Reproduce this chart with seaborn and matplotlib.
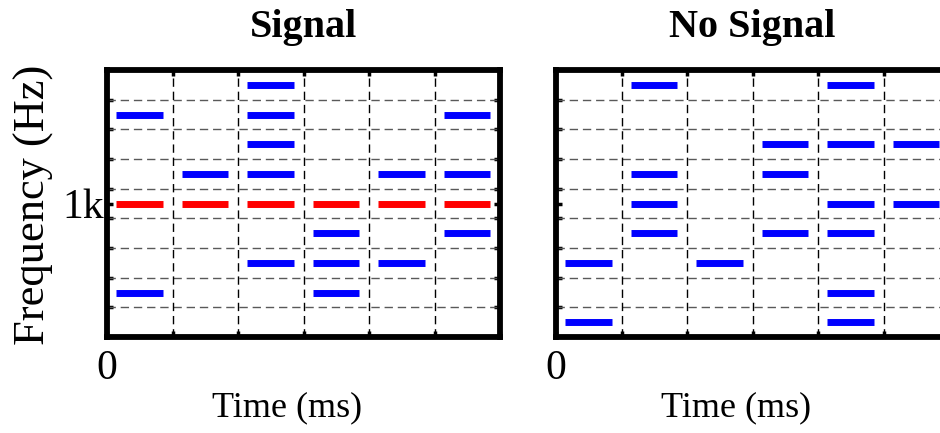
import matplotlib
matplotlib.use("Agg")
import matplotlib.pyplot as plt
import seaborn as sns
import pandas as pd
import numpy as np

# ---- data -------------------------------------------------------------
columns = [0, 1, 2, 3, 4, 5]                 # time slots
tone_row = 4                                  # 1 kHz row
signal_blue = [[7, 1], [5], [8, 7, 6, 5, 2], [3, 2, 1], [5, 2], [7, 5, 3]]
signal_red = [[4], [4], [4], [4], [4], [4]]
nosignal_blue = [[2, 0], [8, 5, 4, 3], [2], [6, 5, 3], [8, 6, 4, 3, 1, 0], [6, 4]]
titles = ["Signal", "No Signal"]
xlabel = "Time (ms)"
ylabel = "Frequency (Hz)"
x_ticklabel = "0"
y_ticklabel = "1k"
n_rows = 9

sns.set_theme(style="white")
plt.rcParams["font.family"] = ["Liberation Serif", "DejaVu Serif"]
plt.rcParams["text.color"] = "black"
plt.rcParams["axes.labelcolor"] = "black"
plt.rcParams["xtick.color"] = "black"
plt.rcParams["ytick.color"] = "black"


def make_df(blue, red):
    recs = []
    seg = 0
    for kind, groups in (("blue", blue), ("red", red)):
        for c, rows in zip(columns, groups):
            for r in rows:
                for x in (c + 0.14, c + 0.85):
                    recs.append({"t": x, "f": r, "seg": seg, "kind": kind})
                seg += 1
    return pd.DataFrame(recs)


fig = plt.figure(figsize=(9.4, 4.33), dpi=100)
w = 393 / 940
h = 267 / 433
b = 1 - 337 / 433
ax1 = fig.add_axes([107 / 940, b, w, h])
ax2 = fig.add_axes([556 / 940, b, w, h])

datasets = [make_df(signal_blue, signal_red),
            make_df(nosignal_blue, [[] for _ in columns])]

for i, (ax, df) in enumerate(zip([ax1, ax2], datasets)):
    # grid
    for k in range(1, n_rows):
        ax.axhline(k - 0.5, color="0.35", lw=1.0, ls=(0, (6, 3.5)), zorder=1)
    for k in range(1, len(columns)):
        ax.axvline(k, color="black", lw=1.0, ls=(0, (6, 3.5)), zorder=1)
    sns.lineplot(data=df, x="t", y="f", units="seg", estimator=None,
                 hue="kind", palette={"blue": "#0000FF", "red": "#FF0000"},
                 lw=5, legend=False, ax=ax, solid_capstyle="butt", zorder=3)
    ax.set_xlim(0, len(columns))
    ax.set_ylim(-0.5, n_rows - 0.5)
    ax.set_xticks(range(0, len(columns) + 1))
    ax.set_xticklabels([x_ticklabel] + [""] * len(columns))
    ax.set_yticks([tone_row])
    ax.set_yticks(np.arange(0.5, n_rows - 1, 1.0), minor=True)
    ax.set_yticklabels([y_ticklabel] if i == 0 else [""])
    ax.tick_params(axis="both", which="both", direction="in", top=True,
                   right=True, left=True, bottom=True, length=4, width=2.5,
                   color="black", labelcolor="black", labelsize=30)
    ax.tick_params(axis="x", which="major", pad=9)
    ax.tick_params(axis="y", which="major", pad=2)
    for sp in ax.spines.values():
        sp.set_visible(True)
        sp.set_linewidth(4.2)
        sp.set_color("black")
        sp.set_zorder(5)
    ax.set_title(titles[i], fontsize=29, fontweight="bold", pad=24,
                 color="black")
    ax.set_xlabel(xlabel, fontsize=26, color="black")
    ax.xaxis.set_label_coords(0.458, -0.205)
    if i == 0:
        ax.set_ylabel(ylabel, fontsize=32, color="black")
        ax.yaxis.set_label_coords(-0.135, 0.494)
    else:
        ax.set_ylabel("")

fig.savefig("out.png", dpi=100)
